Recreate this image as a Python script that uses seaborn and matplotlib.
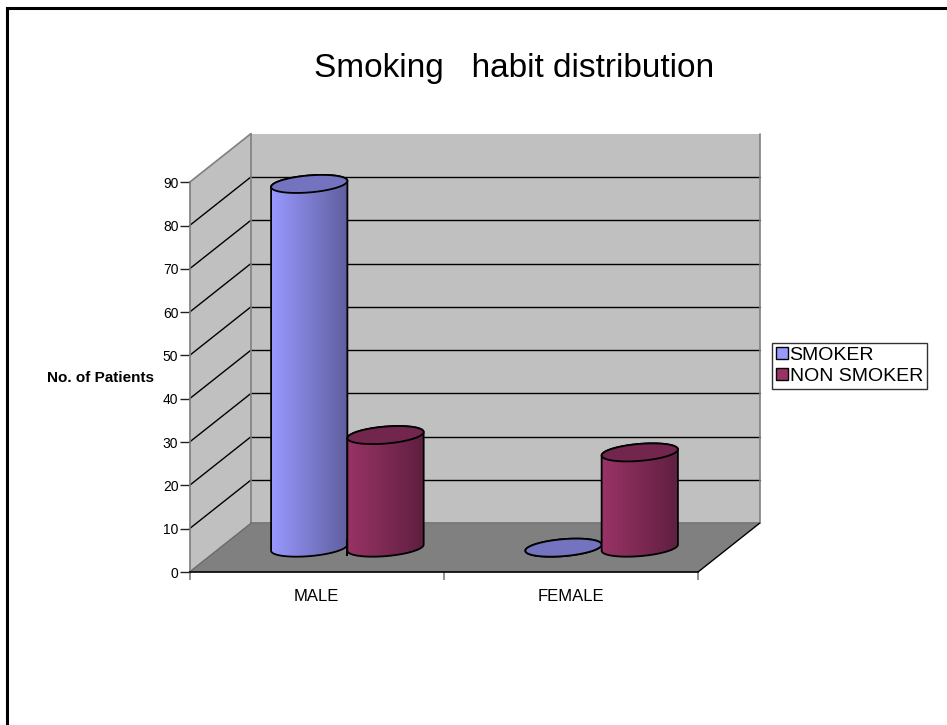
import numpy as np
import pandas as pd
import matplotlib
matplotlib.use("Agg")
import matplotlib.pyplot as plt
from matplotlib.patches import Polygon, Rectangle
import seaborn as sns

# ---------------- data ----------------
categories = ["MALE", "FEMALE"]
series = ["SMOKER", "NON SMOKER"]
smoker = [84, 0]
non_smoker = [26, 22]
y_ticks = [0, 10, 20, 30, 40, 50, 60, 70, 80, 90]
title = "Smoking   habit distribution"
y_label = "No. of Patients"
colors = {"SMOKER": "#9999FF", "NON SMOKER": "#993366"}

df = pd.DataFrame({
    "Sex": categories * 2,
    "Habit": [series[0]] * len(categories) + [series[1]] * len(categories),
    "Patients": smoker + non_smoker,
})

# ---------------- style ----------------
sns.set_theme(style="white")
plt.rcParams["font.family"] = ["Liberation Sans", "DejaVu Sans"]
for k in ["text.color", "axes.labelcolor", "xtick.color", "ytick.color"]:
    plt.rcParams[k] = "black"

W, H = 947, 725
fig = plt.figure(figsize=(W / 100, H / 100), dpi=100)
fig.patch.set_facecolor("white")

# layout (pixels): front plane and depth offset of the fake 3-D box
FX0, FX1 = 189.5, 698.0
FY0, FY1 = 572.0, 182.3
DX, DY = 61.5, -48.7
YMAX = y_ticks[-1]
SY = (FY0 - FY1) / YMAX                 # px per y unit
YLO = -6                                # room below 0 in the bar axes for the cylinder bottoms


def ypx(v, depth):
    return FY0 + (FY1 - FY0) * v / YMAX + DY * depth


def fig_rect(x0, x1, y0, y1):
    return [x0 / W, 1 - y0 / H, (x1 - x0) / W, (y0 - y1) / H]


# ---------------- background box (walls, floor, grid) ----------------
bg = fig.add_axes([0, 0, 1, 1], zorder=0)
bg.set_xlim(0, W)
bg.set_ylim(H, 0)
bg.set_axis_off()

wall = "#C0C0C0"
floor = "#808080"
edge_gray = "#808080"
bx0, bx1 = FX0 + DX, FX1 + DX
bg.add_patch(Rectangle((bx0, ypx(YMAX, 1)), bx1 - bx0, ypx(0, 1) - ypx(YMAX, 1),
                       facecolor=wall, edgecolor="none"))
bg.add_patch(Polygon([(FX0, ypx(0, 0)), (FX0, ypx(YMAX, 0)), (bx0, ypx(YMAX, 1)), (bx0, ypx(0, 1))],
                     closed=True, facecolor=wall, edgecolor="none"))
bg.add_patch(Polygon([(FX0, ypx(0, 0)), (FX1, ypx(0, 0)), (bx1, ypx(0, 1)), (bx0, ypx(0, 1))],
                     closed=True, facecolor=floor, edgecolor="none"))
for v in y_ticks[1:-1]:
    bg.plot([bx0, bx1], [ypx(v, 1), ypx(v, 1)], color="black", lw=1.0)
    bg.plot([FX0, bx0], [ypx(v, 0), ypx(v, 1)], color="black", lw=1.0)
bg.plot([FX0, bx0], [ypx(YMAX, 0), ypx(YMAX, 1)], color=edge_gray, lw=1.2)
bg.plot([bx0, bx0], [ypx(0, 1), ypx(YMAX, 1)], color=edge_gray, lw=1.2)
bg.plot([bx1, bx1], [ypx(0, 1), ypx(YMAX, 1)], color=edge_gray, lw=1.2)
bg.plot([bx0, bx1], [ypx(0, 1), ypx(0, 1)], color="#707070", lw=1.2)
bg.plot([FX0, bx0], [ypx(0, 0), ypx(0, 1)], color="#6a6a6a", lw=1.0)
bg.plot([FX1, bx1], [ypx(0, 0), ypx(0, 1)], color="black", lw=1.0)

# chart border
bg.plot([7, 7, W], [H, 8, 8], color="black", lw=2.2, solid_joinstyle="miter")

fig.text(514 / W, 1 - 68 / H, title, ha="center", va="center", fontsize=24, color="black")

# ---------------- front axes: ticks and labels ----------------
ax_f = fig.add_axes(fig_rect(FX0, FX1, FY0, FY1), zorder=1)
ax_f.patch.set_alpha(0)
ax_f.set_xlim(-0.5, len(categories) - 0.5)
ax_f.set_ylim(0, YMAX)
ax_f.set_yticks(y_ticks)
ax_f.set_yticklabels([str(t) for t in y_ticks])
ax_f.set_xticks(np.arange(len(categories) + 1) - 0.5)
ax_f.set_xticklabels([])
ax_f.set_xticks(np.arange(len(categories)), minor=True)
ax_f.set_xticklabels(categories, minor=True)
for s in ["top", "right"]:
    ax_f.spines[s].set_visible(False)
ax_f.spines["left"].set_color(edge_gray)
ax_f.spines["left"].set_linewidth(1.2)
ax_f.spines["bottom"].set_color("black")
ax_f.spines["bottom"].set_linewidth(1.2)
ax_f.tick_params(axis="y", which="major", direction="out", length=7, width=1,
                 color="#222222", labelsize=10, pad=1, left=True, labelcolor="black")
ax_f.tick_params(axis="x", which="major", direction="out", length=6, width=1.2,
                 color=edge_gray, bottom=True)
ax_f.tick_params(axis="x", which="minor", length=0, labelsize=12, pad=12, labelcolor="black")
ax_f.set_ylabel(y_label, rotation=0, fontsize=11, fontweight="bold", ha="center", va="center",
                color="black")
ax_f.yaxis.set_label_coords((100 - FX0) / (FX1 - FX0), (FY0 - 378) / (FY0 - FY1))
ax_f.grid(False)

# ---------------- bars (mid depth) ----------------
mid_y0 = FY0 + DY / 2
ax_b = fig.add_axes(fig_rect(FX0 + DX / 2, FX1 + DX / 2, mid_y0 - YLO * SY, FY1 + DY / 2), zorder=2)
sns.barplot(data=df, x="Sex", y="Patients", hue="Habit", order=categories, hue_order=series,
            palette=colors, width=0.6, saturation=1, edgecolor="black", ax=ax_b)
ax_b.set_xlim(-0.5, len(categories) - 0.5)
ax_b.set_ylim(YLO, YMAX)
ax_b.set_axis_off()

sx = (FX1 - FX0) / len(categories)      # px per x unit
b_d = 8.5 / SY                          # ellipse half-height (data units)
slope = 0.08 * sx / SY                  # slight perspective tilt (right side higher)


def ell(cx, cy, a, t):
    dx = a * np.cos(t)
    return cx + dx, cy + b_d * np.sin(t) + slope * dx


bars = [p for p in ax_b.patches if isinstance(p, Rectangle)]
for i, p in enumerate(bars):
    x0, w, h = p.get_x(), p.get_width(), p.get_height()
    base = np.array(p.get_facecolor()[:3])
    p.set_visible(False)
    cx, a = x0 + w / 2, w / 2
    z = 3 + i * 0.1

    t_low = np.linspace(np.pi, 2 * np.pi, 80)
    t_up = np.linspace(0, np.pi, 80)
    lx, ly = ell(cx, 0, a, t_low)
    ux, uy = ell(cx, h, a, t_up)
    body_xy = np.column_stack([np.concatenate([lx, ux]), np.concatenate([ly, uy])])
    body = Polygon(body_xy, closed=True, facecolor="none", edgecolor="black", lw=1.3,
                   zorder=z + 0.02, clip_on=False)
    ax_b.add_patch(body)

    left_c = base
    right_c = base * 0.62
    grad = np.linspace(0, 1, 256)[None, :, None]
    img = left_c[None, None, :] * (1 - grad) + right_c[None, None, :] * grad
    ext_y0 = body_xy[:, 1].min() - 1
    ext_y1 = body_xy[:, 1].max() + 1
    im = ax_b.imshow(img, extent=(x0, x0 + w, ext_y0, ext_y1), aspect="auto",
                     interpolation="bilinear", zorder=z, origin="lower")
    im.set_clip_path(body)

    tt = np.linspace(0, 2 * np.pi, 160)
    tx, ty = ell(cx, h, a, tt)
    ax_b.add_patch(Polygon(np.column_stack([tx, ty]), closed=True, facecolor=base * 0.75,
                           edgecolor="black", lw=1.3, zorder=z + 0.05, clip_on=False))

ax_b.set_xlim(-0.5, len(categories) - 0.5)
ax_b.set_ylim(YLO, YMAX)

# ---------------- legend ----------------
sns.move_legend(ax_b, loc="upper left", bbox_to_anchor=(772 / W, 1 - 343 / H),
                bbox_transform=fig.transFigure, title=None, frameon=True, fontsize=14,
                handlelength=0.6, handleheight=0.6, handletextpad=0.1,
                labelspacing=0.2, borderpad=0.2, borderaxespad=0, fancybox=False)
leg = ax_b.get_legend()
leg.get_frame().set_edgecolor("black")
leg.get_frame().set_linewidth(1.0)
leg.set_zorder(10)
for txt in leg.get_texts():
    txt.set_color("black")
for hnd in leg.legend_handles:
    hnd.set_edgecolor("black")
    hnd.set_linewidth(1.0)

fig.savefig("out.png", dpi=100)
